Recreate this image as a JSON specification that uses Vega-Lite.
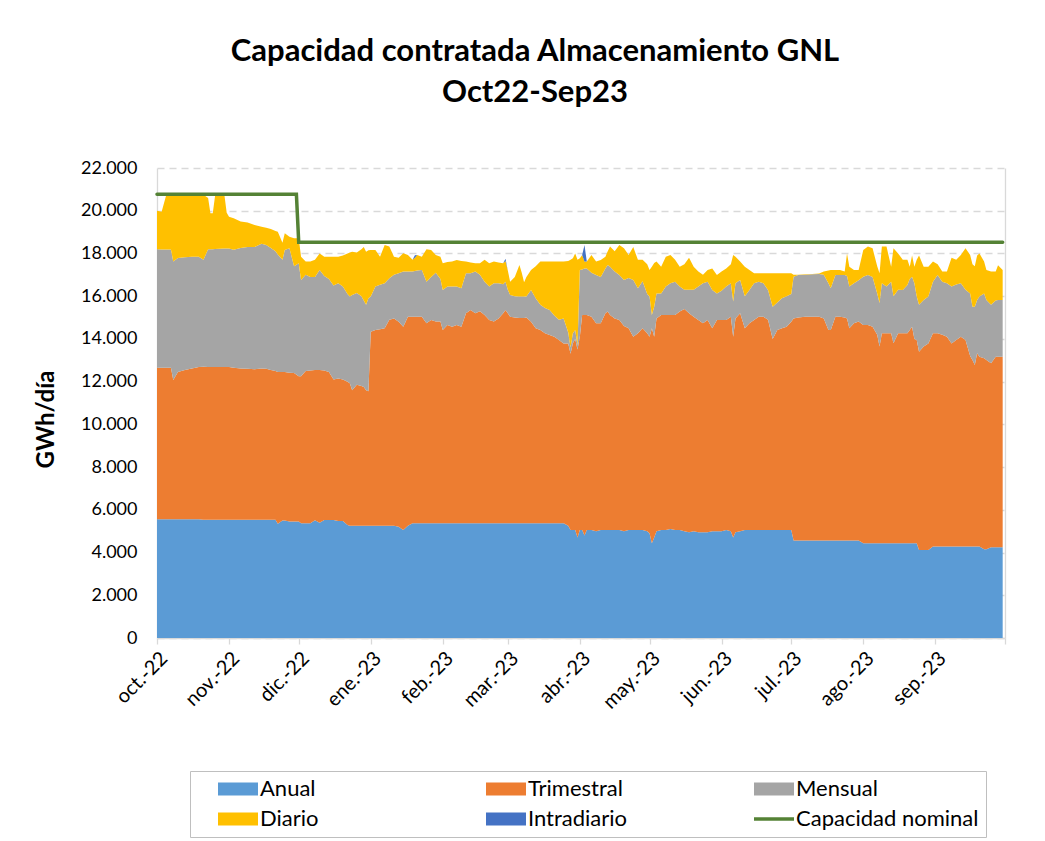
{
  "$schema": "https://vega.github.io/schema/vega-lite/v6.json",
  "autosize": {"type": "none"},
  "padding": {"left": 157, "top": 168, "right": 40, "bottom": 203},
  "width": 848,
  "height": 470,
  "background": "white",
  "title": {
    "text": ["Capacidad contratada Almacenamiento GNL", "Oct22-Sep23"],
    "font": "Lato", "fontSize": 31, "fontWeight": "bold", "color": "#000000",
    "anchor": "middle", "dx": -46, "offset": 50, "lineHeight": 41
  },
  "datasets": {
    "orden": [
      {"serie": "Anual", "orden": 1},
      {"serie": "Trimestral", "orden": 2},
      {"serie": "Mensual", "orden": 3},
      {"serie": "Diario", "orden": 4},
      {"serie": "Intradiario", "orden": 5}
    ],
    "nominal": [
      {"fecha": "2022-10-01", "valor": 20770},
      {"fecha": "2022-11-30", "valor": 20770},
      {"fecha": "2022-12-01", "valor": 18520},
      {"fecha": "2023-09-30", "valor": 18520}
    ],
    "capacidad": [
      {"fecha": "2022-10-01", "Anual": 5560, "Trimestral": 7090, "Mensual": 5545, "Diario": 1805, "Intradiario": 0},
      {"fecha": "2022-10-03", "Anual": 5560, "Trimestral": 7090, "Mensual": 5540, "Diario": 1760, "Intradiario": 0},
      {"fecha": "2022-10-05", "Anual": 5560, "Trimestral": 7090, "Mensual": 5540, "Diario": 2560, "Intradiario": 0},
      {"fecha": "2022-10-07", "Anual": 5560, "Trimestral": 7090, "Mensual": 5540, "Diario": 2560, "Intradiario": 0},
      {"fecha": "2022-10-08", "Anual": 5560, "Trimestral": 6520, "Mensual": 5540, "Diario": 3130, "Intradiario": 0},
      {"fecha": "2022-10-10", "Anual": 5560, "Trimestral": 6890, "Mensual": 5340, "Diario": 2960, "Intradiario": 0},
      {"fecha": "2022-10-13", "Anual": 5560, "Trimestral": 6990, "Mensual": 5270, "Diario": 2930, "Intradiario": 0},
      {"fecha": "2022-10-16", "Anual": 5560, "Trimestral": 7060, "Mensual": 5230, "Diario": 2900, "Intradiario": 0},
      {"fecha": "2022-10-19", "Anual": 5560, "Trimestral": 7120, "Mensual": 5170, "Diario": 2900, "Intradiario": 0},
      {"fecha": "2022-10-21", "Anual": 5540, "Trimestral": 7160, "Mensual": 5000, "Diario": 3050, "Intradiario": 0},
      {"fecha": "2022-10-23", "Anual": 5540, "Trimestral": 7140, "Mensual": 5520, "Diario": 2400, "Intradiario": 0},
      {"fecha": "2022-10-24", "Anual": 5540, "Trimestral": 7140, "Mensual": 5520, "Diario": 1680, "Intradiario": 0},
      {"fecha": "2022-10-25", "Anual": 5540, "Trimestral": 7140, "Mensual": 5520, "Diario": 1680, "Intradiario": 0},
      {"fecha": "2022-10-26", "Anual": 5540, "Trimestral": 7140, "Mensual": 5530, "Diario": 2490, "Intradiario": 0},
      {"fecha": "2022-10-28", "Anual": 5540, "Trimestral": 7140, "Mensual": 5540, "Diario": 2530, "Intradiario": 0},
      {"fecha": "2022-10-30", "Anual": 5540, "Trimestral": 7140, "Mensual": 5550, "Diario": 2520, "Intradiario": 0},
      {"fecha": "2022-10-31", "Anual": 5540, "Trimestral": 7140, "Mensual": 5550, "Diario": 1670, "Intradiario": 0},
      {"fecha": "2022-11-01", "Anual": 5540, "Trimestral": 7140, "Mensual": 5550, "Diario": 1490, "Intradiario": 0},
      {"fecha": "2022-11-03", "Anual": 5540, "Trimestral": 7110, "Mensual": 5520, "Diario": 1480, "Intradiario": 0},
      {"fecha": "2022-11-06", "Anual": 5540, "Trimestral": 7080, "Mensual": 5630, "Diario": 1250, "Intradiario": 0},
      {"fecha": "2022-11-09", "Anual": 5540, "Trimestral": 7060, "Mensual": 5700, "Diario": 1150, "Intradiario": 0},
      {"fecha": "2022-11-12", "Anual": 5540, "Trimestral": 7040, "Mensual": 5720, "Diario": 1030, "Intradiario": 0},
      {"fecha": "2022-11-15", "Anual": 5540, "Trimestral": 7080, "Mensual": 5830, "Diario": 800, "Intradiario": 0},
      {"fecha": "2022-11-17", "Anual": 5540, "Trimestral": 7060, "Mensual": 5800, "Diario": 800, "Intradiario": 0},
      {"fecha": "2022-11-19", "Anual": 5540, "Trimestral": 7010, "Mensual": 5700, "Diario": 900, "Intradiario": 0},
      {"fecha": "2022-11-21", "Anual": 5540, "Trimestral": 6960, "Mensual": 5600, "Diario": 950, "Intradiario": 0},
      {"fecha": "2022-11-22", "Anual": 5350, "Trimestral": 7100, "Mensual": 5500, "Diario": 1070, "Intradiario": 0},
      {"fecha": "2022-11-24", "Anual": 5500, "Trimestral": 6950, "Mensual": 5250, "Diario": 800, "Intradiario": 0},
      {"fecha": "2022-11-25", "Anual": 5500, "Trimestral": 6950, "Mensual": 5710, "Diario": 780, "Intradiario": 0},
      {"fecha": "2022-11-27", "Anual": 5450, "Trimestral": 6970, "Mensual": 5820, "Diario": 540, "Intradiario": 0},
      {"fecha": "2022-11-29", "Anual": 5450, "Trimestral": 6950, "Mensual": 5000, "Diario": 1310, "Intradiario": 0},
      {"fecha": "2022-12-01", "Anual": 5450, "Trimestral": 6800, "Mensual": 5290, "Diario": 1170, "Intradiario": 0},
      {"fecha": "2022-12-02", "Anual": 5370, "Trimestral": 6880, "Mensual": 4510, "Diario": 1090, "Intradiario": 0},
      {"fecha": "2022-12-04", "Anual": 5370, "Trimestral": 7130, "Mensual": 4500, "Diario": 620, "Intradiario": 0},
      {"fecha": "2022-12-06", "Anual": 5370, "Trimestral": 7150, "Mensual": 4380, "Diario": 720, "Intradiario": 0},
      {"fecha": "2022-12-08", "Anual": 5510, "Trimestral": 7040, "Mensual": 4350, "Diario": 800, "Intradiario": 0},
      {"fecha": "2022-12-10", "Anual": 5400, "Trimestral": 7150, "Mensual": 4670, "Diario": 780, "Intradiario": 0},
      {"fecha": "2022-12-12", "Anual": 5520, "Trimestral": 7000, "Mensual": 4430, "Diario": 900, "Intradiario": 0},
      {"fecha": "2022-12-14", "Anual": 5520, "Trimestral": 6930, "Mensual": 4350, "Diario": 1050, "Intradiario": 0},
      {"fecha": "2022-12-16", "Anual": 5520, "Trimestral": 6580, "Mensual": 4400, "Diario": 1350, "Intradiario": 0},
      {"fecha": "2022-12-18", "Anual": 5480, "Trimestral": 6670, "Mensual": 4450, "Diario": 1250, "Intradiario": 0},
      {"fecha": "2022-12-20", "Anual": 5480, "Trimestral": 6620, "Mensual": 4350, "Diario": 1450, "Intradiario": 0},
      {"fecha": "2022-12-22", "Anual": 5290, "Trimestral": 6710, "Mensual": 4100, "Diario": 1900, "Intradiario": 0},
      {"fecha": "2022-12-23", "Anual": 5250, "Trimestral": 6670, "Mensual": 4060, "Diario": 2070, "Intradiario": 0},
      {"fecha": "2022-12-24", "Anual": 5250, "Trimestral": 6350, "Mensual": 4450, "Diario": 2030, "Intradiario": 0},
      {"fecha": "2022-12-26", "Anual": 5250, "Trimestral": 6600, "Mensual": 4300, "Diario": 1900, "Intradiario": 0},
      {"fecha": "2022-12-28", "Anual": 5250, "Trimestral": 6550, "Mensual": 4200, "Diario": 2200, "Intradiario": 0},
      {"fecha": "2022-12-29", "Anual": 5250, "Trimestral": 6500, "Mensual": 4050, "Diario": 2500, "Intradiario": 0},
      {"fecha": "2022-12-30", "Anual": 5250, "Trimestral": 6350, "Mensual": 4000, "Diario": 2480, "Intradiario": 0},
      {"fecha": "2022-12-31", "Anual": 5250, "Trimestral": 6300, "Mensual": 4350, "Diario": 2250, "Intradiario": 0},
      {"fecha": "2023-01-01", "Anual": 5250, "Trimestral": 9090, "Mensual": 1640, "Diario": 2180, "Intradiario": 0},
      {"fecha": "2023-01-03", "Anual": 5250, "Trimestral": 9170, "Mensual": 2030, "Diario": 1710, "Intradiario": 0},
      {"fecha": "2023-01-05", "Anual": 5250, "Trimestral": 9200, "Mensual": 2080, "Diario": 1320, "Intradiario": 0},
      {"fecha": "2023-01-07", "Anual": 5250, "Trimestral": 9250, "Mensual": 2100, "Diario": 1800, "Intradiario": 0},
      {"fecha": "2023-01-09", "Anual": 5250, "Trimestral": 9650, "Mensual": 1940, "Diario": 1480, "Intradiario": 0},
      {"fecha": "2023-01-11", "Anual": 5250, "Trimestral": 9700, "Mensual": 2050, "Diario": 850, "Intradiario": 0},
      {"fecha": "2023-01-13", "Anual": 5210, "Trimestral": 9590, "Mensual": 2270, "Diario": 730, "Intradiario": 0},
      {"fecha": "2023-01-15", "Anual": 5060, "Trimestral": 9510, "Mensual": 2580, "Diario": 860, "Intradiario": 0},
      {"fecha": "2023-01-17", "Anual": 5250, "Trimestral": 9790, "Mensual": 2110, "Diario": 780, "Intradiario": 0},
      {"fecha": "2023-01-19", "Anual": 5370, "Trimestral": 9670, "Mensual": 2110, "Diario": 550, "Intradiario": 0},
      {"fecha": "2023-01-20", "Anual": 5370, "Trimestral": 9670, "Mensual": 2140, "Diario": 620, "Intradiario": 120},
      {"fecha": "2023-01-21", "Anual": 5370, "Trimestral": 9670, "Mensual": 2160, "Diario": 730, "Intradiario": 0},
      {"fecha": "2023-01-23", "Anual": 5370, "Trimestral": 9670, "Mensual": 2190, "Diario": 620, "Intradiario": 0},
      {"fecha": "2023-01-25", "Anual": 5370, "Trimestral": 9360, "Mensual": 1950, "Diario": 1520, "Intradiario": 0},
      {"fecha": "2023-01-27", "Anual": 5370, "Trimestral": 9510, "Mensual": 2020, "Diario": 1260, "Intradiario": 0},
      {"fecha": "2023-01-29", "Anual": 5370, "Trimestral": 9440, "Mensual": 2290, "Diario": 830, "Intradiario": 0},
      {"fecha": "2023-01-31", "Anual": 5370, "Trimestral": 9440, "Mensual": 1990, "Diario": 1050, "Intradiario": 0},
      {"fecha": "2023-02-01", "Anual": 5370, "Trimestral": 9050, "Mensual": 1870, "Diario": 1250, "Intradiario": 0},
      {"fecha": "2023-02-03", "Anual": 5370, "Trimestral": 9280, "Mensual": 1800, "Diario": 1150, "Intradiario": 0},
      {"fecha": "2023-02-05", "Anual": 5370, "Trimestral": 9200, "Mensual": 1880, "Diario": 1170, "Intradiario": 0},
      {"fecha": "2023-02-07", "Anual": 5370, "Trimestral": 9280, "Mensual": 1800, "Diario": 1240, "Intradiario": 0},
      {"fecha": "2023-02-09", "Anual": 5370, "Trimestral": 9200, "Mensual": 1800, "Diario": 1280, "Intradiario": 0},
      {"fecha": "2023-02-11", "Anual": 5370, "Trimestral": 9830, "Mensual": 1870, "Diario": 550, "Intradiario": 0},
      {"fecha": "2023-02-13", "Anual": 5370, "Trimestral": 9980, "Mensual": 1720, "Diario": 510, "Intradiario": 0},
      {"fecha": "2023-02-15", "Anual": 5370, "Trimestral": 9830, "Mensual": 1950, "Diario": 390, "Intradiario": 0},
      {"fecha": "2023-02-17", "Anual": 5370, "Trimestral": 9930, "Mensual": 1700, "Diario": 540, "Intradiario": 0},
      {"fecha": "2023-02-19", "Anual": 5370, "Trimestral": 9750, "Mensual": 1560, "Diario": 1020, "Intradiario": 0},
      {"fecha": "2023-02-21", "Anual": 5370, "Trimestral": 9520, "Mensual": 1560, "Diario": 1090, "Intradiario": 0},
      {"fecha": "2023-02-23", "Anual": 5370, "Trimestral": 9440, "Mensual": 1790, "Diario": 1020, "Intradiario": 0},
      {"fecha": "2023-02-25", "Anual": 5370, "Trimestral": 9580, "Mensual": 1650, "Diario": 980, "Intradiario": 0},
      {"fecha": "2023-02-27", "Anual": 5370, "Trimestral": 9830, "Mensual": 1360, "Diario": 980, "Intradiario": 0},
      {"fecha": "2023-02-28", "Anual": 5370, "Trimestral": 9980, "Mensual": 1330, "Diario": 970, "Intradiario": 100},
      {"fecha": "2023-03-01", "Anual": 5370, "Trimestral": 9830, "Mensual": 1100, "Diario": 900, "Intradiario": 0},
      {"fecha": "2023-03-02", "Anual": 5370, "Trimestral": 9670, "Mensual": 1020, "Diario": 620, "Intradiario": 0},
      {"fecha": "2023-03-04", "Anual": 5370, "Trimestral": 9630, "Mensual": 1000, "Diario": 900, "Intradiario": 0},
      {"fecha": "2023-03-06", "Anual": 5370, "Trimestral": 9610, "Mensual": 1000, "Diario": 1480, "Intradiario": 0},
      {"fecha": "2023-03-07", "Anual": 5370, "Trimestral": 9610, "Mensual": 1000, "Diario": 1120, "Intradiario": 0},
      {"fecha": "2023-03-08", "Anual": 5370, "Trimestral": 9610, "Mensual": 1000, "Diario": 670, "Intradiario": 0},
      {"fecha": "2023-03-09", "Anual": 5370, "Trimestral": 9630, "Mensual": 980, "Diario": 920, "Intradiario": 0},
      {"fecha": "2023-03-11", "Anual": 5370, "Trimestral": 9430, "Mensual": 1490, "Diario": 940, "Intradiario": 0},
      {"fecha": "2023-03-13", "Anual": 5370, "Trimestral": 9130, "Mensual": 1400, "Diario": 1500, "Intradiario": 0},
      {"fecha": "2023-03-15", "Anual": 5370, "Trimestral": 9050, "Mensual": 1180, "Diario": 2020, "Intradiario": 0},
      {"fecha": "2023-03-17", "Anual": 5370, "Trimestral": 8890, "Mensual": 1190, "Diario": 2170, "Intradiario": 0},
      {"fecha": "2023-03-19", "Anual": 5370, "Trimestral": 8810, "Mensual": 1170, "Diario": 2270, "Intradiario": 0},
      {"fecha": "2023-03-21", "Anual": 5370, "Trimestral": 8730, "Mensual": 1000, "Diario": 2520, "Intradiario": 0},
      {"fecha": "2023-03-23", "Anual": 5370, "Trimestral": 8580, "Mensual": 950, "Diario": 2720, "Intradiario": 0},
      {"fecha": "2023-03-25", "Anual": 5370, "Trimestral": 8420, "Mensual": 1160, "Diario": 2670, "Intradiario": 0},
      {"fecha": "2023-03-27", "Anual": 5250, "Trimestral": 8540, "Mensual": 510, "Diario": 3350, "Intradiario": 0},
      {"fecha": "2023-03-28", "Anual": 5050, "Trimestral": 8250, "Mensual": 300, "Diario": 4100, "Intradiario": 0},
      {"fecha": "2023-03-29", "Anual": 5050, "Trimestral": 8750, "Mensual": 460, "Diario": 3520, "Intradiario": 0},
      {"fecha": "2023-03-30", "Anual": 5050, "Trimestral": 8950, "Mensual": 420, "Diario": 3580, "Intradiario": 0},
      {"fecha": "2023-03-31", "Anual": 4700, "Trimestral": 8800, "Mensual": 200, "Diario": 4000, "Intradiario": 0},
      {"fecha": "2023-04-01", "Anual": 5050, "Trimestral": 9050, "Mensual": 3130, "Diario": 550, "Intradiario": 0},
      {"fecha": "2023-04-02", "Anual": 5050, "Trimestral": 10070, "Mensual": 2130, "Diario": 680, "Intradiario": 0},
      {"fecha": "2023-04-03", "Anual": 4800, "Trimestral": 10320, "Mensual": 2180, "Diario": 320, "Intradiario": 780},
      {"fecha": "2023-04-04", "Anual": 5050, "Trimestral": 10070, "Mensual": 2180, "Diario": 320, "Intradiario": 0},
      {"fecha": "2023-04-06", "Anual": 5050, "Trimestral": 9990, "Mensual": 2060, "Diario": 830, "Intradiario": 0},
      {"fecha": "2023-04-08", "Anual": 5000, "Trimestral": 9730, "Mensual": 2260, "Diario": 630, "Intradiario": 0},
      {"fecha": "2023-04-10", "Anual": 5050, "Trimestral": 9680, "Mensual": 2170, "Diario": 790, "Intradiario": 0},
      {"fecha": "2023-04-12", "Anual": 5050, "Trimestral": 10150, "Mensual": 2100, "Diario": 550, "Intradiario": 0},
      {"fecha": "2023-04-13", "Anual": 5050, "Trimestral": 10230, "Mensual": 2180, "Diario": 640, "Intradiario": 0},
      {"fecha": "2023-04-14", "Anual": 5050, "Trimestral": 10070, "Mensual": 2260, "Diario": 940, "Intradiario": 0},
      {"fecha": "2023-04-16", "Anual": 5050, "Trimestral": 9910, "Mensual": 2190, "Diario": 950, "Intradiario": 0},
      {"fecha": "2023-04-18", "Anual": 5050, "Trimestral": 9840, "Mensual": 2100, "Diario": 1410, "Intradiario": 0},
      {"fecha": "2023-04-20", "Anual": 5000, "Trimestral": 9600, "Mensual": 2160, "Diario": 1480, "Intradiario": 0},
      {"fecha": "2023-04-22", "Anual": 5050, "Trimestral": 9450, "Mensual": 2350, "Diario": 1080, "Intradiario": 0},
      {"fecha": "2023-04-24", "Anual": 5050, "Trimestral": 9050, "Mensual": 2660, "Diario": 1540, "Intradiario": 0},
      {"fecha": "2023-04-26", "Anual": 5050, "Trimestral": 9210, "Mensual": 2110, "Diario": 1330, "Intradiario": 0},
      {"fecha": "2023-04-28", "Anual": 5050, "Trimestral": 9450, "Mensual": 2200, "Diario": 1000, "Intradiario": 0},
      {"fecha": "2023-04-30", "Anual": 5000, "Trimestral": 9260, "Mensual": 1840, "Diario": 1400, "Intradiario": 0},
      {"fecha": "2023-05-01", "Anual": 4900, "Trimestral": 9200, "Mensual": 1880, "Diario": 1250, "Intradiario": 0},
      {"fecha": "2023-05-02", "Anual": 4430, "Trimestral": 10070, "Mensual": 620, "Diario": 2260, "Intradiario": 0},
      {"fecha": "2023-05-03", "Anual": 4700, "Trimestral": 9400, "Mensual": 1400, "Diario": 2050, "Intradiario": 0},
      {"fecha": "2023-05-04", "Anual": 5000, "Trimestral": 9960, "Mensual": 1170, "Diario": 1490, "Intradiario": 0},
      {"fecha": "2023-05-06", "Anual": 5050, "Trimestral": 10070, "Mensual": 1010, "Diario": 1250, "Intradiario": 0},
      {"fecha": "2023-05-08", "Anual": 5050, "Trimestral": 10070, "Mensual": 1330, "Diario": 1400, "Intradiario": 0},
      {"fecha": "2023-05-10", "Anual": 5100, "Trimestral": 10020, "Mensual": 1480, "Diario": 1330, "Intradiario": 0},
      {"fecha": "2023-05-12", "Anual": 5050, "Trimestral": 10070, "Mensual": 1560, "Diario": 1020, "Intradiario": 0},
      {"fecha": "2023-05-14", "Anual": 5050, "Trimestral": 10230, "Mensual": 1170, "Diario": 930, "Intradiario": 0},
      {"fecha": "2023-05-16", "Anual": 5000, "Trimestral": 10400, "Mensual": 900, "Diario": 1200, "Intradiario": 0},
      {"fecha": "2023-05-18", "Anual": 4950, "Trimestral": 10250, "Mensual": 1100, "Diario": 1500, "Intradiario": 0},
      {"fecha": "2023-05-20", "Anual": 5000, "Trimestral": 10040, "Mensual": 1260, "Diario": 1080, "Intradiario": 0},
      {"fecha": "2023-05-22", "Anual": 4950, "Trimestral": 9940, "Mensual": 1560, "Diario": 700, "Intradiario": 0},
      {"fecha": "2023-05-24", "Anual": 4950, "Trimestral": 9780, "Mensual": 1870, "Diario": 400, "Intradiario": 0},
      {"fecha": "2023-05-26", "Anual": 4950, "Trimestral": 9940, "Mensual": 1790, "Diario": 550, "Intradiario": 0},
      {"fecha": "2023-05-28", "Anual": 5000, "Trimestral": 9500, "Mensual": 1790, "Diario": 1010, "Intradiario": 0},
      {"fecha": "2023-05-30", "Anual": 5000, "Trimestral": 9890, "Mensual": 1240, "Diario": 860, "Intradiario": 0},
      {"fecha": "2023-06-01", "Anual": 5000, "Trimestral": 9890, "Mensual": 1360, "Diario": 900, "Intradiario": 0},
      {"fecha": "2023-06-03", "Anual": 5050, "Trimestral": 9840, "Mensual": 1560, "Diario": 850, "Intradiario": 0},
      {"fecha": "2023-06-05", "Anual": 5000, "Trimestral": 10040, "Mensual": 1560, "Diario": 900, "Intradiario": 0},
      {"fecha": "2023-06-06", "Anual": 4700, "Trimestral": 9400, "Mensual": 1650, "Diario": 2180, "Intradiario": 0},
      {"fecha": "2023-06-07", "Anual": 4950, "Trimestral": 10010, "Mensual": 1640, "Diario": 1250, "Intradiario": 0},
      {"fecha": "2023-06-09", "Anual": 5000, "Trimestral": 10200, "Mensual": 1560, "Diario": 860, "Intradiario": 0},
      {"fecha": "2023-06-11", "Anual": 5050, "Trimestral": 9450, "Mensual": 1500, "Diario": 1380, "Intradiario": 0},
      {"fecha": "2023-06-13", "Anual": 5050, "Trimestral": 9680, "Mensual": 1560, "Diario": 940, "Intradiario": 0},
      {"fecha": "2023-06-15", "Anual": 5050, "Trimestral": 9840, "Mensual": 1710, "Diario": 470, "Intradiario": 0},
      {"fecha": "2023-06-17", "Anual": 5050, "Trimestral": 9990, "Mensual": 1640, "Diario": 390, "Intradiario": 0},
      {"fecha": "2023-06-19", "Anual": 5050, "Trimestral": 9990, "Mensual": 1560, "Diario": 470, "Intradiario": 0},
      {"fecha": "2023-06-21", "Anual": 5050, "Trimestral": 9850, "Mensual": 1390, "Diario": 780, "Intradiario": 0},
      {"fecha": "2023-06-23", "Anual": 5050, "Trimestral": 8950, "Mensual": 1510, "Diario": 1560, "Intradiario": 0},
      {"fecha": "2023-06-25", "Anual": 5050, "Trimestral": 9370, "Mensual": 1280, "Diario": 1370, "Intradiario": 0},
      {"fecha": "2023-06-27", "Anual": 5050, "Trimestral": 9450, "Mensual": 1400, "Diario": 1170, "Intradiario": 0},
      {"fecha": "2023-06-29", "Anual": 5050, "Trimestral": 9520, "Mensual": 1430, "Diario": 1070, "Intradiario": 0},
      {"fecha": "2023-07-01", "Anual": 5050, "Trimestral": 9750, "Mensual": 1300, "Diario": 970, "Intradiario": 0},
      {"fecha": "2023-07-02", "Anual": 4560, "Trimestral": 10400, "Mensual": 1950, "Diario": 90, "Intradiario": 0},
      {"fecha": "2023-07-04", "Anual": 4560, "Trimestral": 10440, "Mensual": 1990, "Diario": 10, "Intradiario": 0},
      {"fecha": "2023-07-07", "Anual": 4560, "Trimestral": 10480, "Mensual": 1960, "Diario": 30, "Intradiario": 0},
      {"fecha": "2023-07-10", "Anual": 4560, "Trimestral": 10480, "Mensual": 1990, "Diario": 10, "Intradiario": 0},
      {"fecha": "2023-07-13", "Anual": 4560, "Trimestral": 10480, "Mensual": 2000, "Diario": 20, "Intradiario": 0},
      {"fecha": "2023-07-15", "Anual": 4560, "Trimestral": 10400, "Mensual": 2040, "Diario": 150, "Intradiario": 0},
      {"fecha": "2023-07-17", "Anual": 4560, "Trimestral": 9860, "Mensual": 2180, "Diario": 600, "Intradiario": 0},
      {"fecha": "2023-07-18", "Anual": 4560, "Trimestral": 9860, "Mensual": 1950, "Diario": 860, "Intradiario": 0},
      {"fecha": "2023-07-20", "Anual": 4560, "Trimestral": 10480, "Mensual": 1950, "Diario": 240, "Intradiario": 0},
      {"fecha": "2023-07-22", "Anual": 4560, "Trimestral": 10480, "Mensual": 1950, "Diario": 240, "Intradiario": 0},
      {"fecha": "2023-07-24", "Anual": 4560, "Trimestral": 10440, "Mensual": 1990, "Diario": 160, "Intradiario": 0},
      {"fecha": "2023-07-25", "Anual": 4560, "Trimestral": 10400, "Mensual": 1990, "Diario": 1050, "Intradiario": 0},
      {"fecha": "2023-07-26", "Anual": 4560, "Trimestral": 9940, "Mensual": 1950, "Diario": 930, "Intradiario": 0},
      {"fecha": "2023-07-28", "Anual": 4560, "Trimestral": 10170, "Mensual": 1870, "Diario": 630, "Intradiario": 0},
      {"fecha": "2023-07-30", "Anual": 4560, "Trimestral": 10250, "Mensual": 1940, "Diario": 480, "Intradiario": 0},
      {"fecha": "2023-08-01", "Anual": 4430, "Trimestral": 10220, "Mensual": 2260, "Diario": 1250, "Intradiario": 0},
      {"fecha": "2023-08-03", "Anual": 4430, "Trimestral": 10220, "Mensual": 2340, "Diario": 1330, "Intradiario": 0},
      {"fecha": "2023-08-05", "Anual": 4430, "Trimestral": 10140, "Mensual": 2330, "Diario": 1340, "Intradiario": 0},
      {"fecha": "2023-08-07", "Anual": 4430, "Trimestral": 9770, "Mensual": 1930, "Diario": 1270, "Intradiario": 0},
      {"fecha": "2023-08-08", "Anual": 4430, "Trimestral": 9210, "Mensual": 2040, "Diario": 1390, "Intradiario": 0},
      {"fecha": "2023-08-09", "Anual": 4430, "Trimestral": 9830, "Mensual": 2340, "Diario": 1720, "Intradiario": 0},
      {"fecha": "2023-08-11", "Anual": 4430, "Trimestral": 9830, "Mensual": 2190, "Diario": 1870, "Intradiario": 0},
      {"fecha": "2023-08-13", "Anual": 4430, "Trimestral": 9830, "Mensual": 2420, "Diario": 700, "Intradiario": 0},
      {"fecha": "2023-08-14", "Anual": 4430, "Trimestral": 9370, "Mensual": 2200, "Diario": 2240, "Intradiario": 0},
      {"fecha": "2023-08-16", "Anual": 4430, "Trimestral": 9830, "Mensual": 2040, "Diario": 1700, "Intradiario": 0},
      {"fecha": "2023-08-18", "Anual": 4430, "Trimestral": 9830, "Mensual": 2030, "Diario": 1410, "Intradiario": 0},
      {"fecha": "2023-08-20", "Anual": 4430, "Trimestral": 9830, "Mensual": 2260, "Diario": 1180, "Intradiario": 0},
      {"fecha": "2023-08-21", "Anual": 4430, "Trimestral": 9990, "Mensual": 2380, "Diario": 580, "Intradiario": 0},
      {"fecha": "2023-08-22", "Anual": 4430, "Trimestral": 10140, "Mensual": 2340, "Diario": 990, "Intradiario": 0},
      {"fecha": "2023-08-23", "Anual": 4430, "Trimestral": 9570, "Mensual": 2600, "Diario": 780, "Intradiario": 0},
      {"fecha": "2023-08-24", "Anual": 4430, "Trimestral": 9520, "Mensual": 2030, "Diario": 1720, "Intradiario": 0},
      {"fecha": "2023-08-25", "Anual": 4120, "Trimestral": 9280, "Mensual": 2200, "Diario": 2300, "Intradiario": 0},
      {"fecha": "2023-08-27", "Anual": 4120, "Trimestral": 9520, "Mensual": 2180, "Diario": 1560, "Intradiario": 0},
      {"fecha": "2023-08-29", "Anual": 4120, "Trimestral": 9670, "Mensual": 2190, "Diario": 1400, "Intradiario": 0},
      {"fecha": "2023-08-31", "Anual": 4280, "Trimestral": 9980, "Mensual": 2420, "Diario": 940, "Intradiario": 0},
      {"fecha": "2023-09-02", "Anual": 4280, "Trimestral": 9980, "Mensual": 2730, "Diario": 510, "Intradiario": 0},
      {"fecha": "2023-09-04", "Anual": 4280, "Trimestral": 9920, "Mensual": 2480, "Diario": 470, "Intradiario": 0},
      {"fecha": "2023-09-06", "Anual": 4280, "Trimestral": 9820, "Mensual": 2500, "Diario": 550, "Intradiario": 0},
      {"fecha": "2023-09-08", "Anual": 4280, "Trimestral": 9510, "Mensual": 2660, "Diario": 1350, "Intradiario": 0},
      {"fecha": "2023-09-10", "Anual": 4280, "Trimestral": 9670, "Mensual": 2600, "Diario": 1150, "Intradiario": 0},
      {"fecha": "2023-09-12", "Anual": 4280, "Trimestral": 9820, "Mensual": 2500, "Diario": 1330, "Intradiario": 0},
      {"fecha": "2023-09-14", "Anual": 4280, "Trimestral": 9670, "Mensual": 2350, "Diario": 1940, "Intradiario": 0},
      {"fecha": "2023-09-16", "Anual": 4280, "Trimestral": 8920, "Mensual": 2930, "Diario": 1800, "Intradiario": 0},
      {"fecha": "2023-09-17", "Anual": 4280, "Trimestral": 8730, "Mensual": 2500, "Diario": 1990, "Intradiario": 0},
      {"fecha": "2023-09-18", "Anual": 4280, "Trimestral": 8500, "Mensual": 2720, "Diario": 1900, "Intradiario": 0},
      {"fecha": "2023-09-19", "Anual": 4280, "Trimestral": 9050, "Mensual": 2490, "Diario": 2080, "Intradiario": 0},
      {"fecha": "2023-09-20", "Anual": 4280, "Trimestral": 8890, "Mensual": 2810, "Diario": 2020, "Intradiario": 0},
      {"fecha": "2023-09-22", "Anual": 4150, "Trimestral": 8950, "Mensual": 3030, "Diario": 1490, "Intradiario": 0},
      {"fecha": "2023-09-23", "Anual": 4150, "Trimestral": 8860, "Mensual": 2810, "Diario": 1410, "Intradiario": 0},
      {"fecha": "2023-09-25", "Anual": 4250, "Trimestral": 8610, "Mensual": 2740, "Diario": 1550, "Intradiario": 0},
      {"fecha": "2023-09-27", "Anual": 4250, "Trimestral": 8920, "Mensual": 2630, "Diario": 1350, "Intradiario": 0},
      {"fecha": "2023-09-28", "Anual": 4250, "Trimestral": 8920, "Mensual": 2650, "Diario": 1630, "Intradiario": 0},
      {"fecha": "2023-09-30", "Anual": 4250, "Trimestral": 8920, "Mensual": 2650, "Diario": 1410, "Intradiario": 0}
    ]
  },
  "layer": [
    {
      "data": {"name": "capacidad"},
      "transform": [
        {"fold": ["Anual", "Trimestral", "Mensual", "Diario", "Intradiario"], "as": ["serie", "valor"]},
        {"lookup": "serie", "from": {"data": {"name": "orden"}, "key": "serie", "fields": ["orden"]}}
      ],
      "mark": {"type": "area", "opacity": 1, "interpolate": "linear"},
      "encoding": {
        "x": {
          "field": "fecha", "type": "temporal",
          "scale": {"type": "utc", "domain": [{"year": 2022, "month": 10, "date": 1, "utc": true}, {"year": 2023, "month": 10, "date": 1, "utc": true}]},
          "axis": {
            "title": null,
            "values": [
              {"year": 2022, "month": 10, "date": 1, "utc": true},
              {"year": 2022, "month": 11, "date": 1, "utc": true},
              {"year": 2022, "month": 12, "date": 1, "utc": true},
              {"year": 2023, "month": 1, "date": 1, "utc": true},
              {"year": 2023, "month": 2, "date": 1, "utc": true},
              {"year": 2023, "month": 3, "date": 1, "utc": true},
              {"year": 2023, "month": 4, "date": 1, "utc": true},
              {"year": 2023, "month": 5, "date": 1, "utc": true},
              {"year": 2023, "month": 6, "date": 1, "utc": true},
              {"year": 2023, "month": 7, "date": 1, "utc": true},
              {"year": 2023, "month": 8, "date": 1, "utc": true},
              {"year": 2023, "month": 9, "date": 1, "utc": true},
              {"year": 2023, "month": 10, "date": 1, "utc": true}
            ],
            "labelExpr": "(utcyear(datum.value) === 2023 && utcmonth(datum.value) === 9) ? '' : ['ene.','feb.','mar.','abr.','may.','jun.','jul.','ago.','sep.','oct.','nov.','dic.'][utcmonth(datum.value)] + '-' + utcFormat(datum.value, '%y')",
            "labelAngle": -45,
            "labelFont": "Lato", "labelFontSize": 20, "labelColor": "#000000",
            "labelPadding": 4, "labelOverlap": false, "labelBound": false, "labelFlush": false,
            "grid": false, "domainColor": "#d9d9d9", "domainWidth": 1.3,
            "tickColor": "#d9d9d9", "tickSize": 6, "tickWidth": 1.3
          }
        },
        "y": {
          "field": "valor", "type": "quantitative", "stack": "zero",
          "scale": {"domain": [0, 22000], "nice": false},
          "axis": {
            "title": "GWh/día", "titleFont": "Lato", "titleFontSize": 24, "titleFontWeight": "bold",
            "titleColor": "#000000", "titlePadding": 22, "titleY": 251,
            "values": [0, 2000, 4000, 6000, 8000, 10000, 12000, 14000, 16000, 18000, 20000, 22000],
            "labelExpr": "replace(format(datum.value, ','), ',', '.')",
            "labelFont": "Lato", "labelFontSize": 18, "labelColor": "#000000", "labelPadding": 20,
            "ticks": false, "domain": true, "domainColor": "#d9d9d9", "domainWidth": 1.3,
            "grid": true, "gridColor": "#d9d9d9", "gridDash": [7, 5], "gridWidth": 1.3
          }
        },
        "color": {
          "field": "serie", "type": "nominal",
          "scale": {
            "domain": ["Anual", "Trimestral", "Mensual", "Diario", "Intradiario", "Capacidad nominal"],
            "range": ["#5b9bd5", "#ed7d31", "#a5a5a5", "#ffc000", "#4472c4", "#548235"]
          },
          "legend": {
            "title": " ", "titleOrient": "left", "titleFontSize": 10, "titlePadding": 30,
            "orient": "none", "legendX": 33, "legendY": 603,
            "direction": "horizontal", "columns": 3,
            "labelFont": "Lato", "labelFontSize": 22, "labelColor": "#000000", "labelLimit": 400,
            "symbolSize": 1600, "labelOffset": 11,
            "symbolType": "M-1,-0.33H1V0.33H-1Z", "symbolStrokeWidth": 0, "symbolOpacity": 1,
            "columnPadding": 36, "rowPadding": 8, "padding": 7, "gridAlign": "all",
            "strokeColor": "#bfbfbf",
            "encode": {
              "symbols": {
                "update": {
                  "shape": {"signal": "datum.value === 'Capacidad nominal' ? 'M-1,0H1' : 'M-1,-0.33H1V0.33H-1Z'"},
                  "strokeWidth": {"signal": "datum.value === 'Capacidad nominal' ? 3.5 : 0"},
                  "stroke": {"scale": "color", "field": "value"},
                  "opacity": {"value": 1}
                }
              }
            }
          }
        },
        "order": {"field": "orden", "type": "quantitative", "sort": "ascending"}
      }
    },
    {
      "data": {"name": "nominal"},
      "mark": {"type": "line", "strokeWidth": 3.5, "strokeCap": "round", "interpolate": "linear"},
      "encoding": {
        "x": {"field": "fecha", "type": "temporal"},
        "y": {
          "field": "valor", "type": "quantitative",
          "axis": {"orient": "right", "title": null, "labels": false, "ticks": false, "grid": false, "domain": true, "domainColor": "#d9d9d9", "domainWidth": 1.3}
        },
        "color": {"datum": "Capacidad nominal"}
      }
    }
  ],
  "resolve": {"axis": {"y": "independent"}},
  "config": {
    "view": {"stroke": null},
    "font": "Lato"
  }
}
